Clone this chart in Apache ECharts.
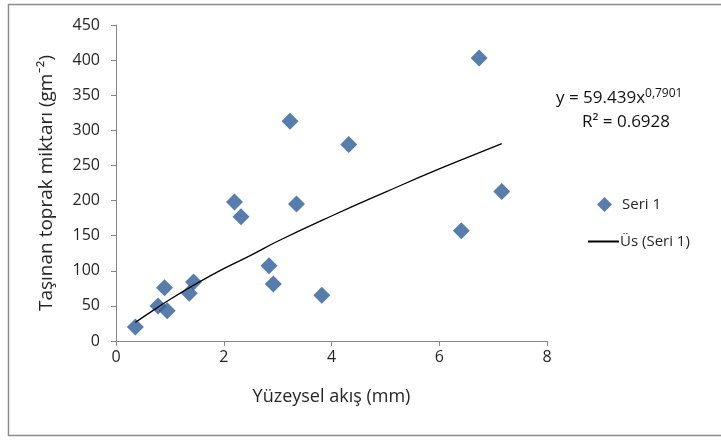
<!DOCTYPE html>
<html><head><meta charset="utf-8">
<script src="https://cdn.jsdelivr.net/npm/echarts@6/dist/echarts.min.js"></script>
<style>html,body{margin:0;padding:0;background:#fff}#c{width:721px;height:441px}</style>
</head><body><div id="c"></div>
<script>
var xValues = [0.36, 0.78, 0.90, 0.95, 1.36, 1.44, 2.20, 2.32, 2.84, 2.92, 3.23, 3.35, 3.82, 4.32, 6.41, 6.74, 7.16];
var yValues = [20, 50, 76, 43, 68, 84, 198, 177, 107, 81, 313, 195, 65, 280, 157, 403, 213];
var trendX = [0.36, 0.6, 1, 1.5, 2, 2.5, 3, 4, 5, 6, 7, 7.16];
var trendY = [26.5, 39, 59, 82, 103, 122, 142, 178, 212, 245, 276, 281];
var xTicks = [0, 2, 4, 6, 8];
var yTicks = [0, 50, 100, 150, 200, 250, 300, 350, 400, 450];
var seriesName = 'Seri 1';
var trendName = 'Üs (Seri 1)';
var equation = 'y = 59.439x';
var exponent = '0,7901';
var r2 = 'R² = 0.6928';

var F = '"Open Sans", Lato, sans-serif';
var TXT = '#262626';
var chart = echarts.init(document.getElementById('c'));
chart.setOption({
  animation: false,
  backgroundColor: '#fff',
  textStyle: {fontFamily: F},
  grid: {left: 116, right: 174, top: 25, bottom: 100},
  xAxis: {
    type: 'value', min: xTicks[0], max: xTicks[xTicks.length-1], interval: 2,
    name: 'Yüzeysel akış (mm)', nameLocation: 'middle', nameGap: 47,
    nameTextStyle: {fontSize: 18, color: TXT, fontFamily: F},
    axisLine: {show: true, lineStyle: {color: '#868686', width: 1}},
    axisTick: {show: true, length: 5, inside: false, lineStyle: {color: '#868686'}},
    axisLabel: {fontSize: 16, color: TXT, margin: 8, fontFamily: F},
    splitLine: {show: false}
  },
  yAxis: {
    type: 'value', min: yTicks[0], max: yTicks[yTicks.length-1], interval: 50,
    name: 'Taşınan toprak miktarı (gm⁻²)', nameLocation: 'middle', nameGap: 60,
    nameTextStyle: {fontSize: 19, color: TXT, fontFamily: F},
    axisLine: {show: true, lineStyle: {color: '#868686', width: 1}},
    axisTick: {show: true, length: 5, lineStyle: {color: '#868686'}},
    axisLabel: {fontSize: 16, color: TXT, margin: 16, fontFamily: F},
    splitLine: {show: false}
  },
  legend: [
    {
      left: 592, top: 192, itemWidth: 15, itemHeight: 15, itemGap: 8,
      textStyle: {fontSize: 15, color: TXT, fontFamily: F, padding: [0,0,0,5]},
      data: [{name: seriesName, icon: 'diamond', itemStyle: {color: '#2f5e99'}}]
    },
    {
      left: 583, top: 229, itemWidth: 31, itemHeight: 2, itemGap: 8,
      textStyle: {fontSize: 15, color: TXT, fontFamily: F, padding: [0,0,0,-4]},
      data: [{name: trendName, icon: 'rect', itemStyle: {color: '#000'}}]
    }
  ],
  graphic: [
    {type: 'rect', shape: {x: 8.5, y: 4.5, width: 720, height: 431}, style: {fill: 'none', stroke: '#8c8c8c', lineWidth: 1.5}, silent: true},
    {type: 'text', left: 556, top: 88, style: {rich: {a: {fontSize: 17, fontFamily: F, fill: '#111'}, b: {fontSize: 12, fontFamily: F, fill: '#111', verticalAlign: 'top', padding: [0,0,9,0]}}, text: '{a|' + equation + '}{b|' + exponent + '}'}},
    {type: 'text', left: 582, top: 114, style: {text: r2, fontSize: 17, fontFamily: F, fill: '#111'}}
  ],
  series: [
    {
      name: seriesName, type: 'scatter', symbol: 'diamond', symbolSize: [17, 17],
      itemStyle: {color: '#2d5c98'},
      data: xValues.map(function (x, i) { return [x, yValues[i]]; }),
      z: 3
    },
    {
      name: trendName, type: 'line', smooth: true, showSymbol: false, symbol: 'none',
      lineStyle: {color: '#000', width: 1.3},
      itemStyle: {color: '#000'},
      data: trendX.map(function (x, i) { return [x, trendY[i]]; }),
      z: 4
    }
  ]
});
</script></body></html>
